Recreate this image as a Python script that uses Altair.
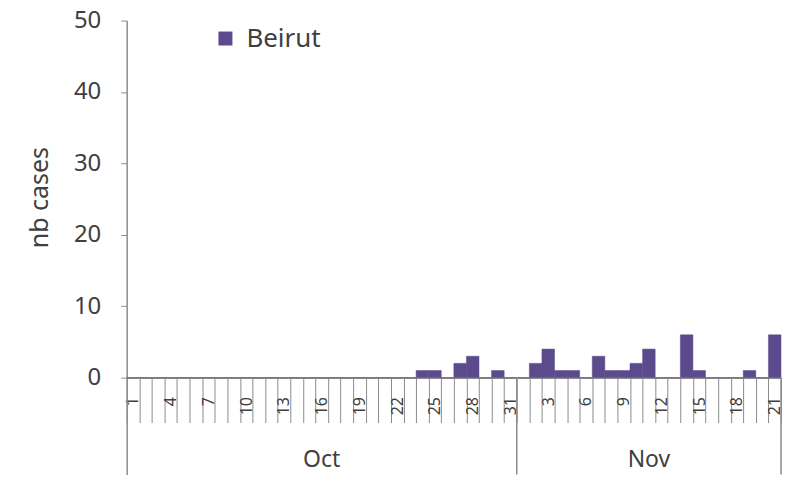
import json
import altair as alt
import pandas as pd

# ---- data ----
series_name = "Beirut"
month_names = ["Oct", "Nov"]
oct_days = [1, 2, 3, 4, 5, 6, 7, 8, 9, 10, 11, 12, 13, 14, 15, 16, 17, 18, 19, 20,
            21, 22, 23, 24, 25, 26, 27, 28, 29, 30, 31]
nov_days = [1, 2, 3, 4, 5, 6, 7, 8, 9, 10, 11, 12, 13, 14, 15, 16, 17, 18, 19, 20, 21]
oct_cases = [0, 0, 0, 0, 0, 0, 0, 0, 0, 0, 0, 0, 0, 0, 0, 0, 0, 0, 0, 0,
             0, 0, 0, 1, 1, 0, 2, 3, 0, 1, 0]
nov_cases = [0, 2, 4, 1, 1, 0, 3, 1, 1, 2, 4, 0, 0, 6, 1, 0, 0, 0, 1, 0, 6]
oct_labeled = [1, 4, 7, 10, 13, 16, 19, 22, 25, 28, 31]
nov_labeled = [3, 6, 9, 12, 15, 18, 21]
y_ticks = [0, 10, 20, 30, 40, 50]

# ---- build tables ----
rows = []
for m, days, cases in [("Oct", oct_days, oct_cases), ("Nov", nov_days, nov_cases)]:
    for d, c in zip(days, cases):
        rows.append({"key": f"{m} {d}", "month": m, "day": d, "cases": c, "city": series_name})
df = pd.DataFrame(rows)
order = list(df["key"])
shown = [f"Oct {d}" for d in oct_labeled] + [f"Nov {d}" for d in nov_labeled]

month_mid = pd.DataFrame({
    "key": [f"Oct {oct_days[len(oct_days) // 2]}", f"Nov {nov_days[len(nov_days) // 2]}"],
    "label": month_names,
})
sep_left = pd.DataFrame({"key": [f"Nov {nov_days[0]}"]})
sep_right = pd.DataFrame({"key": [f"Nov {nov_days[-1]}"]})

FONT = "Noto Sans"
TXT = "#404040"
AX = "#8c8c8c"
BAR = "#5B4A8C"
W, H = 656, 455

xscale = alt.Scale(domain=order, paddingInner=0, paddingOuter=0)
yscale = alt.Scale(domain=[-13.55, 50], nice=False, zero=False)

bars = alt.Chart(df).mark_bar(color=BAR, stroke=BAR, strokeWidth=0.5).encode(
    x=alt.X("key:N", sort=order, scale=xscale, title=None,
            axis=alt.Axis(
                orient="bottom", offset=-97, domainColor=AX, domainWidth=1.5,
                tickColor=AX, tickBand="extent", tickSize=45, tickWidth=1,
                labelAngle=270, labelPadding=-26, labelFontSize=16, labelFont=FONT,
                labelColor=TXT, labelOverlap=False, labelBound=False,
                labelExpr=f"indexof({json.dumps(shown)}, datum.value) >= 0 ? split(datum.value, ' ')[1] : ''",
            )),
    y=alt.Y("cases:Q", scale=yscale, title="nb cases",
            axis=alt.Axis(
                values=y_ticks, grid=False, domainColor=AX, domainWidth=1.5,
                tickColor=AX, tickSize=6, labelFontSize=24, labelFont=FONT,
                labelColor=TXT, labelPadding=20,
                titleFontSize=25, titleFont=FONT, titleColor=TXT, titleFontWeight="normal",
                titleAngle=270, titleX=-87, titleY=177, titleAlign="center",
                titleBaseline="middle",
            )),
    color=alt.Color("city:N", scale=alt.Scale(domain=[series_name], range=[BAR]),
                    legend=alt.Legend(
                        title=None, orient="none", legendX=86, legendY=5, padding=0,
                        symbolType="square", symbolSize=196, symbolStrokeWidth=0,
                        labelFontSize=26, labelFont=FONT, labelColor=TXT, labelOffset=8,
                    )),
)

sep1 = alt.Chart(sep_left).mark_rule(color=AX, strokeWidth=1.5).encode(
    x=alt.X("key:N", sort=order, scale=xscale, bandPosition=0),
    y=alt.value(358), y2=alt.value(H),
)
sep2 = alt.Chart(sep_right).mark_rule(color=AX, strokeWidth=1.5).encode(
    x=alt.X("key:N", sort=order, scale=xscale, bandPosition=1),
    y=alt.value(358), y2=alt.value(H),
)
months = alt.Chart(month_mid).mark_text(font=FONT, fontSize=23, color=TXT, baseline="middle").encode(
    x=alt.X("key:N", sort=order, scale=xscale),
    y=alt.value(441),
    text="label:N",
)

chart = alt.layer(bars, sep1, sep2, months).properties(
    width=W, height=H,
    autosize=alt.AutoSizeParams(type="none"),
    padding={"left": 119, "top": 12, "right": 2, "bottom": 5},
).configure_view(stroke=None)

chart.save("out.html", embed_options={"renderer": "svg", "actions": False})
